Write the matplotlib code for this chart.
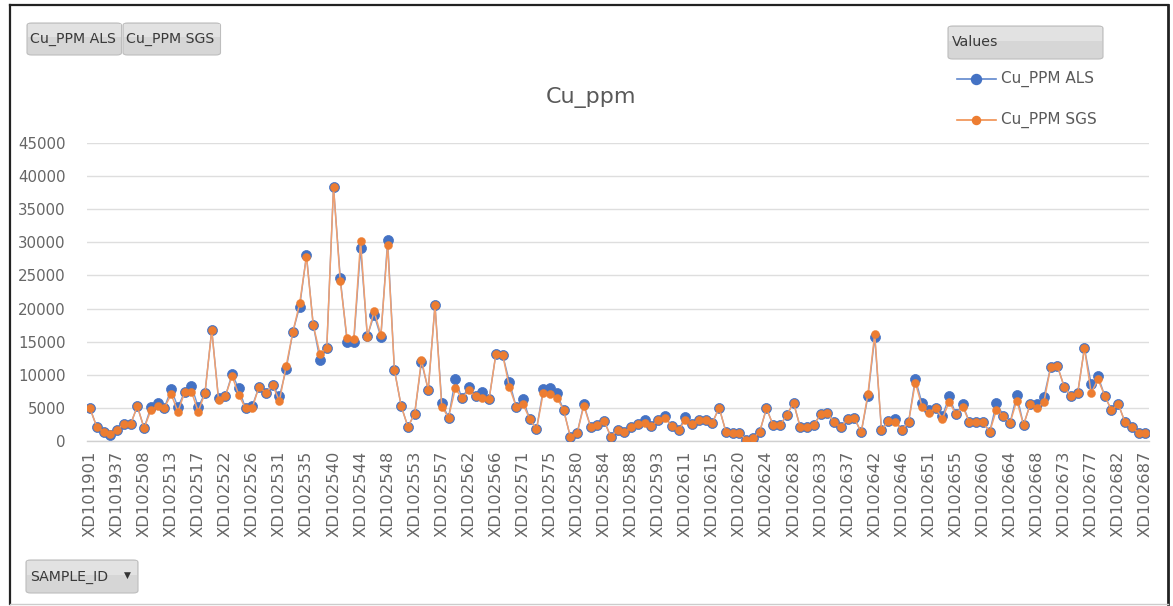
import numpy as np
import matplotlib
matplotlib.use("Agg")
import matplotlib.pyplot as plt
from matplotlib.patches import FancyBboxPatch, Rectangle
from matplotlib.lines import Line2D

# ---------------- data ----------------
tick_labels = ["XD101901", "XD101937", "XD102508", "XD102513", "XD102517", "XD102522",
               "XD102526", "XD102531", "XD102535", "XD102540", "XD102544", "XD102548",
               "XD102553", "XD102557", "XD102562", "XD102566", "XD102571", "XD102575",
               "XD102580", "XD102584", "XD102588", "XD102593", "XD102611", "XD102615",
               "XD102620", "XD102624", "XD102628", "XD102633", "XD102637", "XD102642",
               "XD102646", "XD102651", "XD102655", "XD102660", "XD102664", "XD102668",
               "XD102673", "XD102677", "XD102682", "XD102687"]
label_every = 4

cu_als = [4900, 2100, 1360, 860, 1600, 2600, 2500, 5200, 1900, 5100,
          5750, 5000, 7800, 5100, 7400, 8300, 5100, 7200, 16750, 6400,
          6700, 10100, 7900, 4900, 5300, 8200, 7200, 8400, 6700, 10800,
          16500, 20300, 28100, 17500, 12200, 14000, 38400, 24600, 15000, 15000,
          29100, 15850, 19000, 15700, 30400, 10700, 5250, 2100, 4100, 11900,
          7700, 20500, 5750, 3500, 9300, 6400, 8200, 6700, 7300, 6300,
          13100, 13000, 8900, 5150, 6300, 3300, 1700, 7800, 7900, 7200,
          4700, 600, 1100, 5550, 2100, 2400, 3000, 600, 1600, 1260,
          2000, 2600, 3100, 2200, 3100, 3700, 2200, 1600, 3600, 2500,
          3200, 3100, 2700, 5000, 1360, 1200, 1100, 150, 350, 1360,
          4900, 2300, 2300, 3900, 5750, 2000, 2000, 2400, 4000, 4200,
          2800, 2000, 3300, 3400, 1260, 6700, 15700, 1550, 3000, 3300,
          1600, 2800, 9400, 5650, 4600, 5000, 3700, 6700, 4000, 5500,
          2800, 2900, 2800, 1360, 5750, 3800, 2700, 6900, 2400, 5550,
          5550, 6600, 11100, 11300, 8200, 6700, 7200, 14000, 8600, 9800,
          6800, 4600, 5550, 2800, 2000, 1200, 1200]

cu_sgs = [4900, 2100, 1360, 1000, 1600, 2600, 2500, 5200, 1900, 4600,
          5250, 5000, 7000, 4400, 7300, 7400, 4400, 7200, 16750, 6200,
          6700, 9800, 6900, 4900, 5000, 8200, 7200, 8400, 6000, 11300,
          16500, 20800, 27850, 17500, 13100, 14000, 38400, 24100, 15500, 15400,
          30200, 15700, 19600, 16000, 29600, 10700, 5250, 2100, 4100, 12200,
          7700, 20500, 5150, 3500, 7900, 6400, 7600, 6700, 6400, 6300,
          13100, 13000, 8100, 5150, 5550, 3300, 1700, 7200, 7000, 6500,
          4700, 600, 1100, 5250, 2100, 2400, 3000, 600, 1600, 1260,
          2000, 2600, 2700, 2200, 3100, 3400, 2200, 1600, 3100, 2500,
          3200, 3100, 2700, 5000, 1360, 1200, 1100, 150, 350, 1360,
          4900, 2300, 2300, 3900, 5750, 2000, 2000, 2400, 4000, 4200,
          2800, 2000, 3300, 3400, 1260, 7100, 16200, 1550, 3000, 2800,
          1600, 2800, 8800, 5150, 4200, 5000, 3300, 5900, 4000, 5150,
          2800, 2900, 2800, 1360, 4700, 3800, 2700, 6050, 2400, 5550,
          5000, 5800, 11100, 11300, 8200, 6700, 7200, 14000, 7200, 9300,
          6800, 4600, 5550, 2800, 2000, 1200, 1200]

series_names = ["Cu_PPM ALS", "Cu_PPM SGS"]
y_ticks = [0, 5000, 10000, 15000, 20000, 25000, 30000, 35000, 40000, 45000]
title = "Cu_ppm"

BLUE = "#4472C4"
ORANGE = "#ED7D31"
GREY_TXT = "#595959"
TICK_TXT = "#666666"

W, H = 1173, 606
fig = plt.figure(figsize=(W / 100, H / 100), dpi=100)
fig.patch.set_facecolor("white")


def fx(px):
    return px / W


def fy(py):
    return 1 - py / H


ax = fig.add_axes([fx(86.6), fy(440.7), fx(1148.7) - fx(86.6), fy(143.3) - fy(440.7)])
x = np.arange(len(cu_als))

# lines (paler, as in the reference) then markers
ax.plot(x, cu_als, color=BLUE, lw=1.0, alpha=0.75, zorder=2)
ax.plot(x, cu_als, ls="none", marker="o", ms=7.2, mfc=BLUE, mec=BLUE, mew=0.5,
        zorder=3, label=series_names[0])
ax.plot(x, cu_sgs, color="#F0A070", lw=1.1, zorder=4)
ax.plot(x, cu_sgs, ls="none", marker="o", ms=5.8, mfc=ORANGE, mec=ORANGE, mew=0.3,
        zorder=5, label=series_names[1])

ax.set_xlim(-0.5, len(cu_als) - 0.5)
ax.set_ylim(0, 45000)
ax.set_yticks(y_ticks)
ax.set_yticklabels([str(v) for v in y_ticks], fontsize=10.8, color=TICK_TXT,
                   family="DejaVu Sans")
tick_pos = x[::label_every]
ax.set_xticks(tick_pos)
ax.set_xticklabels(tick_labels, rotation=90, fontsize=11.8, color=TICK_TXT,
                   family="DejaVu Sans", va="top", ha="center")
ax.tick_params(axis="both", length=0)
ax.tick_params(axis="y", pad=15)
ax.tick_params(axis="x", pad=7)
ax.grid(axis="y", color="#dedede", lw=1.0, zorder=0)
ax.set_axisbelow(True)
for s in ["top", "right", "left"]:
    ax.spines[s].set_visible(False)
ax.spines["bottom"].set_color("#d0d0d0")
ax.spines["bottom"].set_linewidth(1.0)

# title
fig.text(fx(591), fy(97), title, ha="center", va="center", fontsize=16,
         color=GREY_TXT, family="DejaVu Sans")


# buttons
def button(x0, y0, x1, y1, text, tx=None, arrow=False):
    p = FancyBboxPatch((fx(x0), fy(y1)), fx(x1) - fx(x0), fy(y0) - fy(y1),
                       boxstyle="round,pad=0,rounding_size=0.004",
                       transform=fig.transFigure, facecolor="#d6d6d6",
                       edgecolor="#bdbdbd", lw=0.8, zorder=5)
    fig.add_artist(p)
    p2 = Rectangle((fx(x0 + 1), fy(y0 + (y1 - y0) * 0.45)), fx(x1 - 1) - fx(x0 + 1),
                   fy(y0 + 1) - fy(y0 + (y1 - y0) * 0.45), transform=fig.transFigure,
                   facecolor="#e2e2e2", edgecolor="none", zorder=5)
    fig.add_artist(p2)
    tx = x0 + 4 if tx is None else tx
    fig.text(fx(tx), fy((y0 + y1) / 2), text, ha="left", va="center",
             fontsize=10.2, color="#3a3a3a", family="DejaVu Sans", zorder=6)
    if arrow:
        fig.text(fx(x1 - 11), fy((y0 + y1) / 2 - 1), "\u25BC", ha="center",
                 va="center", fontsize=6.5, color="#333333", zorder=6)


button(27, 23, 121.5, 55, series_names[0], tx=30)
button(123, 23, 220.5, 55, series_names[1], tx=125.5)
button(948, 26, 1103, 59, "Values", tx=951.5)
button(26, 560, 138, 593, "SAMPLE_ID", tx=30, arrow=True)

# legend (manual)
for i, (name, col, ms) in enumerate(zip(series_names, [BLUE, ORANGE], [7.2, 5.8])):
    yy = fy(79 + i * 41)
    fig.add_artist(Line2D([fx(957), fx(996)], [yy, yy], transform=fig.transFigure,
                          color=col, lw=1.2, alpha=0.85))
    fig.add_artist(Line2D([fx(976)], [yy], transform=fig.transFigure, color=col,
                          marker="o", ms=ms, mec=col))
    fig.text(fx(1001), yy, name, ha="left", va="center", fontsize=11,
             color=GREY_TXT, family="DejaVu Sans")

# outer frame
fig.add_artist(Line2D([fx(9.5), fx(9.5)], [fy(5), fy(604)], transform=fig.transFigure,
                      color="#222222", lw=1.6))
fig.add_artist(Line2D([fx(9.5), fx(1168)], [fy(5), fy(5)], transform=fig.transFigure,
                      color="#222222", lw=1.6))
fig.add_artist(Line2D([fx(1168), fx(1168)], [fy(5), fy(604)], transform=fig.transFigure,
                      color="#222222", lw=2.0))
fig.add_artist(Line2D([fx(9.5), fx(1168)], [fy(603.5), fy(603.5)],
                      transform=fig.transFigure, color="#cccccc", lw=1.0))

fig.savefig("out.png", dpi=100, facecolor="white")
